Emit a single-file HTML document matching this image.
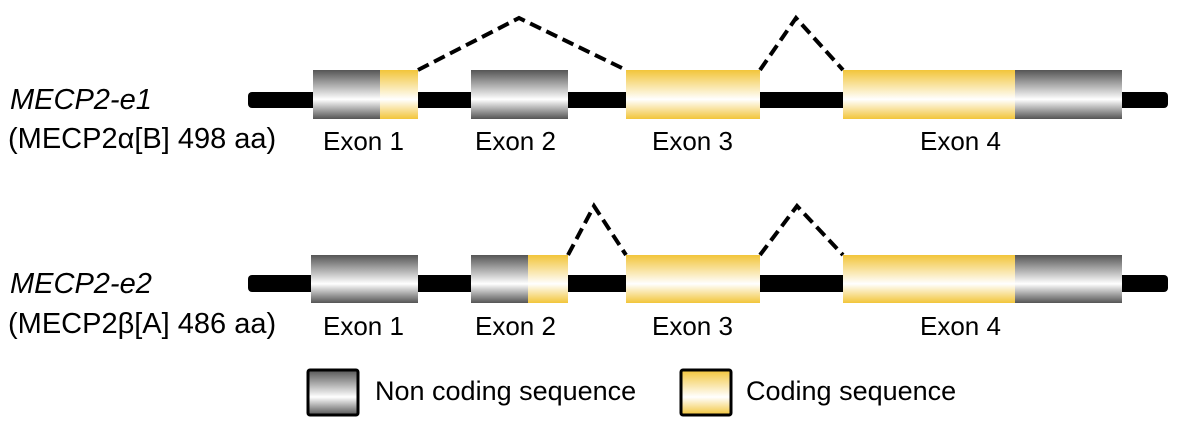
<!DOCTYPE html>
<html><head><meta charset="utf-8"><style>
html,body{margin:0;padding:0;background:#fff;width:1200px;height:435px;overflow:hidden}
</style></head><body>
<svg width="1200" height="435" xmlns="http://www.w3.org/2000/svg" font-family="Liberation Sans, Arial, sans-serif">
<defs>
<linearGradient id="g" x1="0" y1="0" x2="0" y2="1">
<stop offset="0" stop-color="#555"/><stop offset="0.6" stop-color="#fff"/><stop offset="1" stop-color="#555"/>
</linearGradient>
<linearGradient id="y" x1="0" y1="0" x2="0" y2="1">
<stop offset="0" stop-color="#f2c53a"/><stop offset="0.6" stop-color="#fff"/><stop offset="1" stop-color="#f2c53a"/>
</linearGradient>
</defs>
<g>
<rect x="248" y="92" width="920" height="16" rx="4" fill="#000"/>
<rect x="313" y="70" width="67" height="49" fill="url(#g)"/>
<rect x="380" y="70" width="38" height="49" fill="url(#y)"/>
<rect x="471" y="70" width="97" height="49" fill="url(#g)"/>
<rect x="626" y="70" width="134" height="49" fill="url(#y)"/>
<rect x="843" y="70" width="172" height="49" fill="url(#y)"/>
<rect x="1015" y="70" width="107" height="49" fill="url(#g)"/>
<polyline points="418,70 519,18 626,70" fill="none" stroke="#000" stroke-width="4" stroke-dasharray="12,6"/>
<polyline points="760,70 796,18 843,70" fill="none" stroke="#000" stroke-width="4" stroke-dasharray="12,6"/>
<text x="10" y="109" font-size="29" font-style="italic">MECP2-e1</text>
<text x="8" y="148" font-size="29">(MECP2α[B] 498 aa)</text>
<text x="323" y="150" font-size="26">Exon 1</text>
<text x="475" y="150" font-size="26">Exon 2</text>
<text x="652" y="150" font-size="26">Exon 3</text>
<text x="920" y="150" font-size="26">Exon 4</text>
</g>
<g>
<rect x="248" y="275" width="920" height="17" rx="4" fill="#000"/>
<rect x="311" y="255" width="107" height="48" fill="url(#g)"/>
<rect x="471" y="255" width="57" height="48" fill="url(#g)"/>
<rect x="528" y="255" width="40" height="48" fill="url(#y)"/>
<rect x="626" y="255" width="134" height="48" fill="url(#y)"/>
<rect x="843" y="255" width="172" height="48" fill="url(#y)"/>
<rect x="1015" y="255" width="107" height="48" fill="url(#g)"/>
<polyline points="568,255 594,206 626,255" fill="none" stroke="#000" stroke-width="4" stroke-dasharray="12,6"/>
<polyline points="760,255 797,206 843,255" fill="none" stroke="#000" stroke-width="4" stroke-dasharray="12,6"/>
<text x="10" y="293" font-size="29" font-style="italic">MECP2-e2</text>
<text x="8" y="333" font-size="29">(MECP2β[A] 486 aa)</text>
<text x="323" y="335" font-size="26">Exon 1</text>
<text x="475" y="335" font-size="26">Exon 2</text>
<text x="652" y="335" font-size="26">Exon 3</text>
<text x="920" y="335" font-size="26">Exon 4</text>
</g>
<rect x="308" y="370" width="50" height="45" fill="url(#g)" stroke="#000" stroke-width="3" rx="2"/>
<text x="375" y="400" font-size="27">Non coding sequence</text>
<rect x="681" y="370" width="50" height="45" fill="url(#y)" stroke="#000" stroke-width="3" rx="2"/>
<text x="746" y="400" font-size="27">Coding sequence</text>
</svg>
</body></html>
